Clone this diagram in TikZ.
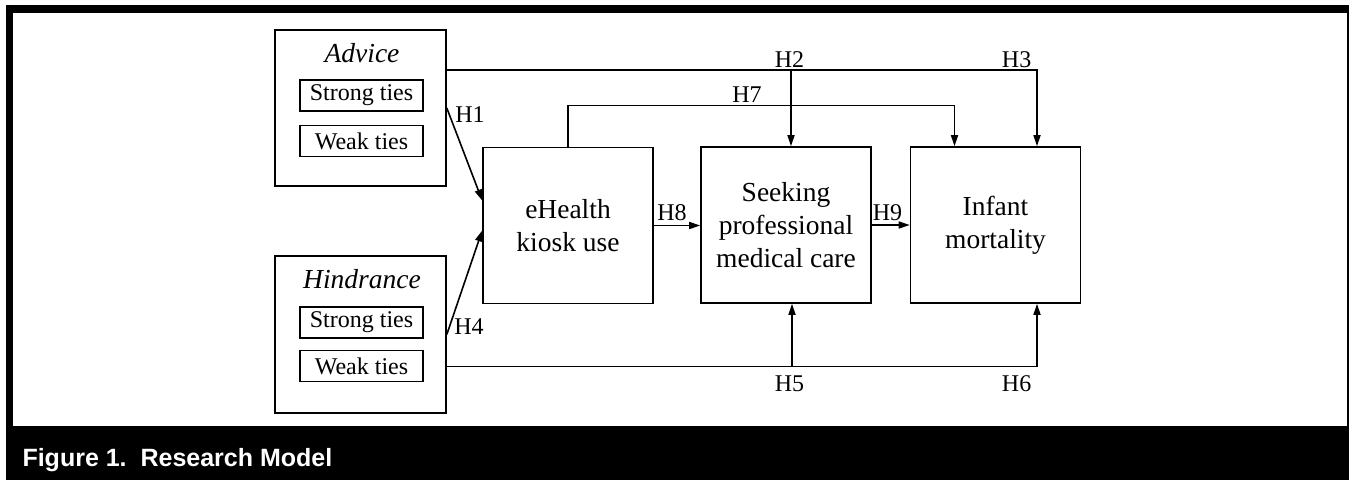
\documentclass[tikz,border=0pt]{standalone}
\usepackage{fontspec}
\setmainfont{Liberation Serif}
\newfontfamily\capfont{Liberation Sans}
\usetikzlibrary{arrows.meta}
\begin{document}
\begin{tikzpicture}[x=1pt, y=1pt, line width=1.6pt,
  main/.style = {draw, rectangle, minimum width=170pt, minimum height=156pt, inner sep=0pt, align=center, font=\fontsize{27.5}{33}\selectfont},
  group/.style = {draw, rectangle, minimum width=171pt, minimum height=156pt, inner sep=0pt},
  tie/.style = {draw, rectangle, minimum width=123pt, minimum height=31pt, inner sep=0pt, font=\fontsize{24}{28}\selectfont},
  head/.style = {anchor=base, inner sep=0pt, font=\fontsize{27.5}{33}\selectfont\itshape},
  hyp/.style = {inner sep=0pt, font=\fontsize{24}{28}\selectfont},
  arr/.style = {-{Triangle[length=11pt, width=7pt]}}]
\useasboundingbox (0,0) rectangle (1349,480);
\fill[black] (6,0) rectangle (1349,475);
\fill[white] (13.3,54) rectangle (1346.7,467.3);
\node[anchor=base west, inner sep=0pt, text=white, font=\capfont\bfseries\fontsize{25}{30}\selectfont] (caption) at (21.7,13.3) {Figure 1.\ \ Research Model};
\node[group] (advice) at (360.5,372) {};
\node[group, minimum height=157pt] (hindrance) at (360.5,145.5) {};
\node[head] (advicehead) at (362,417) {Advice};
\node[head] (hindrancehead) at (362,192) {Hindrance};
\node[tie] (advstrong) at (361.5,384.5) {Strong ties};
\node[tie] (advweak) at (361.5,339) {Weak ties};
\node[tie] (hinstrong) at (361.5,157.5) {Strong ties};
\node[tie] (hinweak) at (361.5,114) {Weak ties};
\node[main] (ehealth) at (568,254.5) {eHealth\\kiosk use};
\node[main] (seeking) at (786,255) {Seeking\\professional\\medical care};
\node[main] (infant) at (995.5,255) {Infant\\mortality};
\coordinate (advtop) at ([yshift=38pt]advice.east);
\coordinate (hinlow) at ([yshift=-32pt]hindrance.east);
\draw[arr] (advice.east) -- ([yshift=25pt]ehealth.west);
\draw[arr] (hindrance.east) -- ([yshift=-5pt]ehealth.west);
\draw[arr] (ehealth.east) -- (ehealth.east -| seeking.west);
\draw[arr] (seeking.east) -- (seeking.east -| infant.west);
\draw[arr] (advtop) -| ([xshift=41.5pt]infant.north);
\draw[arr] ([xshift=5pt]seeking.north |- advtop) -- ([xshift=5pt]seeking.north);
\draw[arr] (ehealth.north) -- ++(0,41) -| ([xshift=-41pt]infant.north);
\draw[arr] (hinlow) -| ([xshift=41.5pt]infant.south);
\draw[arr] ([xshift=6pt]seeking.south |- hinlow) -- ([xshift=6pt]seeking.south);
\node[hyp] (h1) at (470,365) {H1};
\node[hyp] (h2) at (789.5,420) {H2};
\node[hyp] (h3) at (1016.6,420) {H3};
\node[hyp] (h4) at (469,153.3) {H4};
\node[hyp] (h5) at (789.5,96) {H5};
\node[hyp] (h6) at (1016.6,96) {H6};
\node[hyp] (h7) at (747,385) {H7};
\node[hyp] (h8) at (672,267) {H8};
\node[hyp] (h9) at (887.5,267) {H9};
\end{tikzpicture}
\end{document}
